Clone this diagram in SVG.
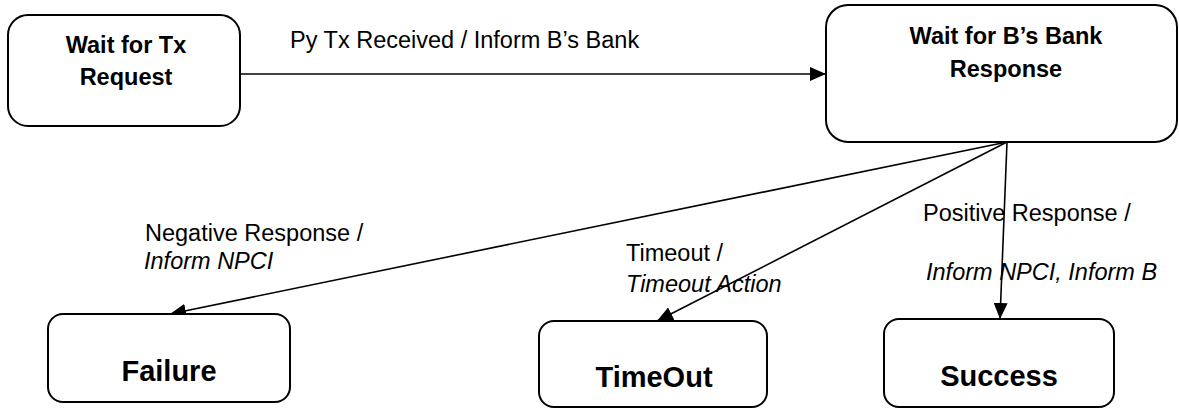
<svg xmlns="http://www.w3.org/2000/svg" width="1179" height="408" viewBox="0 0 1179 408">
<style>
.node{fill:#fff;stroke:#000;stroke-width:2}
.conn{stroke:#000;stroke-width:1.6;fill:none;marker-end:url(#ah)}
.t{font-family:"Liberation Sans",Arial,sans-serif;fill:#000}
.lbl{font-size:23.5px}
.b{font-weight:bold;text-anchor:middle}
.i{font-style:italic}
</style>
<defs>
<marker id="ah" markerUnits="userSpaceOnUse" markerWidth="16" markerHeight="14" refX="16" refY="7" orient="auto">
<path d="M0,0 L16,7 L0,14 Z" fill="#000"/>
</marker>
</defs>
<rect width="1179" height="408" fill="#fff"/>
<g id="connectors">
<line class="conn" x1="240" y1="74" x2="826" y2="74"/>
<line class="conn" x1="1007" y1="142" x2="170" y2="314"/>
<line class="conn" x1="1007" y1="142" x2="657" y2="321"/>
<line class="conn" x1="1007" y1="142" x2="1000" y2="319"/>
<text class="t lbl" x="290" y="48">Py Tx Received / Inform B’s Bank</text>
<text class="t lbl" x="145" y="241">Negative Response /</text>
<text class="t lbl i" x="144" y="269">Inform NPCI</text>
<text class="t lbl" x="626" y="261">Timeout /</text>
<text class="t lbl i" x="626" y="292">Timeout Action</text>
<text class="t lbl" x="923" y="221">Positive Response /</text>
<text class="t lbl i" x="926" y="280">Inform NPCI, Inform B</text>
</g>
<g id="wait-tx">
<rect class="node" x="8" y="15" width="232" height="111" rx="20"/>
<text class="t b" x="126" y="53" font-size="23.5">Wait for Tx</text>
<text class="t b" x="126" y="85" font-size="23.5">Request</text>
</g>
<g id="wait-bank">
<rect class="node" x="826" y="5" width="351" height="137" rx="22"/>
<text class="t b" x="1006" y="44" font-size="23.5">Wait for B’s Bank</text>
<text class="t b" x="1006" y="77" font-size="23.5">Response</text>
</g>
<g id="failure">
<rect class="node" x="48" y="314" width="242" height="88" rx="15"/>
<text class="t b" x="169" y="381" font-size="29">Failure</text>
</g>
<g id="timeout">
<rect class="node" x="539" y="321" width="228" height="86" rx="15"/>
<text class="t b" x="654" y="387" font-size="29">TimeOut</text>
</g>
<g id="success">
<rect class="node" x="884" y="319" width="230" height="88" rx="15"/>
<text class="t b" x="999" y="386" font-size="29">Success</text>
</g>
</svg>
